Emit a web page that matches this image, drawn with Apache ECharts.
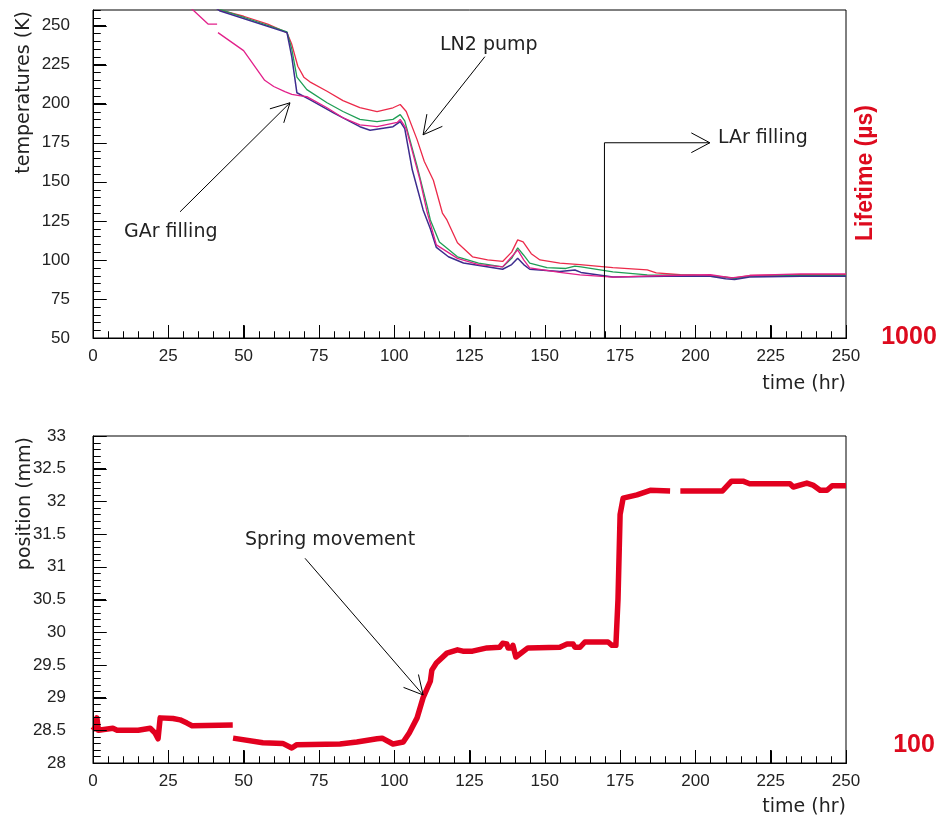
<!DOCTYPE html>
<html>
<head>
<meta charset="utf-8">
<script src="https://cdn.jsdelivr.net/npm/echarts@6/dist/echarts.min.js"></script>
<style>
html,body{margin:0;padding:0;background:#fff;}
#c{width:944px;height:819px;}
</style>
</head>
<body>
<div id="c"></div>
<script>
// ---- data (time in hr, temperature in K) ----
const probeRed = [[40,263],[42,260],[50,256],[58,251],[64.4,245.5],[66,238],[68,224],[70,217],[72,214],[77.7,208],[83,202],[88.6,197.5],[94.3,195],[99.6,197.4],[102,199.5],[104,195],[107.6,177],[110,163],[113,151],[116,130],[117.5,125.6],[121,111],[126,102],[131,100],[136,99],[139,105],[141,112.8],[142.8,111.5],[145.5,104],[148.4,100],[155,98],[161.7,97],[172.6,95],[184,93.6],[187,91.7],[195,90.5],[205,90],[210,89],[213,88.5],[218,90],[235,90.5],[250,90.5]];
const probeGreen = [[40,263],[42,260.5],[64.4,246],[66,235],[67.7,217],[71,209],[77.7,200.6],[83,195],[88.6,190],[94.3,188.5],[99.6,190],[102,193],[103.5,189],[107.6,160],[111,134],[112,125.6],[115,111.5],[121,102],[128,98],[136,95.5],[139,101],[141,107.7],[143,103],[145,98],[150.7,95],[157,94.5],[160,96],[162,95.5],[172.6,92.3],[184,90.4],[200,90],[210,89],[213,88],[218,89.5],[235,90],[250,90]];
const probeNavy = [[40,262.5],[42,259.5],[64.4,245.5],[66,230],[67.7,207],[72,202.6],[80,194],[88.6,185.3],[92,183],[99.6,185.3],[102,188.5],[103.5,184],[106,157.7],[109.6,132],[112,120],[114,108],[118,102],[123,98],[136,94],[139,97],[141,101],[143,97],[145,94],[155,92.5],[160,93.5],[162,92],[172.6,89],[190,89.5],[205,89.5],[210,88],[213,87.5],[218,89],[235,89.5],[250,89.5]];
const probeMagenta = [[31,264],[33.2,260],[38.2,251],[41.2,251],[41.3,null],[41.5,245.5],[50,234],[57,215],[60,211],[63.7,207.7],[66,206],[69,205],[71,204.5],[77.7,197.4],[83,191],[88.6,186.5],[94.3,185.3],[101,188],[102,190],[104,184],[108.6,151],[111,130],[114,109.6],[121,101],[128,97],[136,95.5],[139,102],[141,106.4],[143,100],[145,94.9],[155,92],[161.7,90.4],[172.6,89],[190,90],[205,90.5],[212,88.5],[218,90],[235,91],[250,91]];

// ---- data (time in hr, position in mm) ----
const springPos = [[0,28.5],[0.8,28.55],[1.3,28.69],[1.8,28.5],[2.3,28.53],[6.6,28.53],[8,28.5],[15,28.5],[15.6,28.53],[19,28.53],[20.6,28.46],[21.6,28.37],[22.2,28.35],[22.3,28.69],[26.6,28.68],[28.9,28.66],[31.2,28.61],[32.9,28.57],[46.4,28.58],[46.45,null],[46.5,28.38],[56.4,28.31],[63,28.3],[66,28.23],[67.7,28.28],[82,28.29],[87.6,28.32],[94.3,28.37],[96,28.38],[99.6,28.29],[103,28.32],[105,28.46],[107.6,28.69],[109.6,29.0],[112,29.25],[112.5,29.42],[114,29.53],[117.5,29.68],[121,29.73],[122.8,29.71],[126,29.71],[130.8,29.76],[135,29.77],[136,29.83],[137.4,29.82],[137.8,29.76],[139,29.76],[139.4,29.8],[140.4,29.62],[144.4,29.76],[155,29.77],[157.4,29.82],[159.4,29.82],[160,29.77],[161.7,29.77],[163.3,29.85],[171,29.85],[172.3,29.8],[173.6,29.8],[174.3,30.5],[175,31.8],[176,32.05],[180.6,32.1],[185,32.17],[191.6,32.16],[193,null],[195,32.16],[209,32.16],[212,32.31],[215.8,32.31],[218,32.27],[231.4,32.27],[232.5,32.22],[237,32.28],[239,32.25],[241.4,32.17],[243.7,32.17],[245.4,32.24],[250,32.24]];

// ---- axes ranges / ticks ----
const timeRange = [0, 250], timeStep = 25, timeMinor = 5;
const tempRange = [50, 260], tempStep = 25, tempMinor = 5;
const posRange = [28, 33], posStep = 0.5, posMinor = 0.1;

// ---- annotations (data coordinates) ----
const garArrow = [[28.9,130.8],[65.4,200.6]];
const ln2Arrow = [[130.1,230.1],[109.6,180.1]];
const larPath = [[169.8,50],[169.8,175],[204.8,175]];
const springArrow = [[70.4,31.13],[109.6,29.04]];

const txt = '#222';
const tickFont = {color: txt, fontFamily: 'Liberation Sans', fontSize: 17};
const majorTick = {show: true, inside: true, length: 13, lineStyle: {color: '#000', width: 1}};

function xAx(g) {
  return {
    gridIndex: g, type: 'value', min: timeRange[0], max: timeRange[1], interval: timeStep,
    axisLine: {show: true, onZero: false, lineStyle: {color: '#000', width: 1}},
    axisTick: majorTick,
    splitLine: {show: false},
    axisLabel: Object.assign({margin: 10}, tickFont)
  };
}

const chart = echarts.init(document.getElementById('c'), null, {renderer: 'canvas'});
chart.setOption({
  animation: false,
  backgroundColor: '#fff',
  grid: [
    {left: 93, top: 10, width: 753, height: 328, show: true, borderColor: '#000', borderWidth: 1},
    {left: 93, top: 436, width: 753, height: 327, show: true, borderColor: '#000', borderWidth: 1}
  ],
  xAxis: [xAx(0), xAx(1)],
  yAxis: [
    {gridIndex: 0, type: 'value', min: tempRange[0], max: tempRange[1], interval: tempStep,
     axisLine: {show: true, lineStyle: {color: '#000'}},
     axisTick: majorTick,
     splitLine: {show: false},
     axisLabel: Object.assign({margin: 23, showMaxLabel: false}, tickFont)},
    {gridIndex: 1, type: 'value', min: posRange[0], max: posRange[1], interval: posStep,
     axisLine: {show: true, lineStyle: {color: '#000'}},
     axisTick: majorTick,
     splitLine: {show: false},
     axisLabel: Object.assign({margin: 27}, tickFont)}
  ],
  series: [
    {type: 'line', xAxisIndex: 0, yAxisIndex: 0, data: probeRed, showSymbol: false, connectNulls: false,
     lineStyle: {color: '#ec2a4a', width: 1.3}},
    {type: 'line', xAxisIndex: 0, yAxisIndex: 0, data: probeGreen, showSymbol: false,
     lineStyle: {color: '#1f9e55', width: 1.3}},
    {type: 'line', xAxisIndex: 0, yAxisIndex: 0, data: probeNavy, showSymbol: false,
     lineStyle: {color: '#3d2c8e', width: 1.5}},
    {type: 'line', xAxisIndex: 0, yAxisIndex: 0, data: probeMagenta, showSymbol: false, connectNulls: false,
     lineStyle: {color: '#e2208a', width: 1.3}},
    {type: 'line', xAxisIndex: 1, yAxisIndex: 1, data: springPos, showSymbol: false, connectNulls: false,
     lineStyle: {color: '#e2001f', width: 5.5, cap: 'butt', join: 'round'}}
  ]
});

function P(gi, pt) {
  return chart.convertToPixel({xAxisIndex: gi, yAxisIndex: gi}, pt);
}
function isMajor(v, lo, step) { const r = (v - lo) / step; return Math.abs(r - Math.round(r)) < 1e-6; }
const crisp = v => Math.round(v) + 0.5;
// one zig-zag polyline per axis: runs along the axis and steps into the frame at each tick
function xTickZig(gi, xr, xStep, xMin, yBase) {
  const pts = [];
  const n = Math.round((xr[1] - xr[0]) / xMin);
  for (let i = 0; i <= n; i++) {
    const v = xr[0] + i * xMin;
    const L = isMajor(v, xr[0], xStep) ? 13 : 7;
    const p = P(gi, [v, yBase]);
    const x = crisp(p[0]), y = crisp(p[1]);
    pts.push([x, y], [x, y - L], [x, y]);
  }
  return {type: 'polyline', shape: {points: pts}, style: {stroke: '#000', lineWidth: 1, fill: null}, z: 120};
}
function yTickZig(gi, yr, yStep, yMin, xBase) {
  const pts = [];
  const n = Math.round((yr[1] - yr[0]) / yMin);
  for (let i = 0; i <= n; i++) {
    const v = yr[0] + i * yMin;
    const L = isMajor(v, yr[0], yStep) ? 13 : 7;
    const p = P(gi, [xBase, v]);
    const x = crisp(p[0]), y = crisp(p[1]);
    pts.push([x, y], [x + L, y], [x, y]);
  }
  return {type: 'polyline', shape: {points: pts}, style: {stroke: '#000', lineWidth: 1, fill: null}, z: 120};
}
function seg(a, b) {
  return {type: 'line', shape: {x1: a[0], y1: a[1], x2: b[0], y2: b[1]}, style: {stroke: '#000', lineWidth: 1}, z: 100};
}
function head(a, b) {
  const ang = Math.atan2(a[1] - b[1], a[0] - b[0]);
  const L = 21, h = 28 * Math.PI / 180;
  return {type: 'polyline', shape: {points: [[b[0] + L * Math.cos(ang + h), b[1] + L * Math.sin(ang + h)], [b[0], b[1]], [b[0] + L * Math.cos(ang - h), b[1] + L * Math.sin(ang - h)]]},
    style: {stroke: '#000', lineWidth: 1, fill: null}, z: 100};
}
function T(x, y, text, extra) {
  return {type: 'text', x: x, y: y, z: 100, style: Object.assign({text: text, textVerticalAlign: 'middle', fontFamily: 'DejaVu Sans', fontSize: 19, fill: txt}, extra || {})};
}
function RB(x, y, text, size, rot) {
  const o = {type: 'text', x: x, y: y, z: 100,
    style: {text: text, textAlign: 'center', textVerticalAlign: 'middle', fontSize: size, fontFamily: 'Liberation Sans', fontWeight: 'bold', fill: '#dd0a1e'}};
  if (rot) o.rotation = rot;
  return o;
}

const gr = [];
[[0, garArrow], [0, ln2Arrow], [1, springArrow]].forEach(([gi, ar]) => {
  const a = P(gi, ar[0]), b = P(gi, ar[1]);
  gr.push(seg(a, b), head(a, b));
});
const lp = larPath.map(p => P(0, p));
gr.push({type: 'polyline', shape: {points: lp}, style: {stroke: '#000', lineWidth: 1, fill: null}, z: 100});
gr.push(head(lp[1], lp[2]));
gr.push(T(124, 232, 'GAr filling'));
gr.push(T(440, 45, 'LN2 pump'));
gr.push(T(718, 138, 'LAr filling'));
gr.push(T(245, 540, 'Spring movement'));
gr.push(T(846, 384, 'time (hr)', {textAlign: 'right'}));
gr.push(T(846, 807, 'time (hr)', {textAlign: 'right'}));
gr.push({type: 'text', x: 24, y: 11, rotation: Math.PI / 2, z: 100,
  style: {text: 'temperatures (K)', textAlign: 'right', textVerticalAlign: 'middle', fontFamily: 'DejaVu Sans', fontSize: 19, fill: txt}});
gr.push({type: 'text', x: 25, y: 437, rotation: Math.PI / 2, z: 100,
  style: {text: 'position (mm)', textAlign: 'right', textVerticalAlign: 'middle', fontFamily: 'DejaVu Sans', fontSize: 19, fill: txt}});
gr.push(RB(866, 173, 'Lifetime (\u00b5s)', 23, Math.PI / 2));
gr.push(RB(909, 337, '1000', 25));
gr.push(RB(914, 745, '100', 25));
gr.push(xTickZig(0, timeRange, timeStep, timeMinor, tempRange[0]));
gr.push(yTickZig(0, tempRange, tempStep, tempMinor, timeRange[0]));
gr.push(xTickZig(1, timeRange, timeStep, timeMinor, posRange[0]));
gr.push(yTickZig(1, posRange, posStep, posMinor, timeRange[0]));
chart.setOption({graphic: gr});
</script>
</body>
</html>
